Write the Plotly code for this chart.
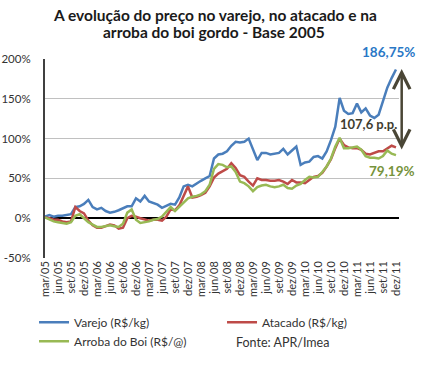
import plotly.graph_objects as go

# --- data ---
month_abbr = ["jan", "fev", "mar", "abr", "mai", "jun", "jul", "ago", "set", "out", "nov", "dez"]
months = []
for yr in range(5, 12):
    for mi, m in enumerate(month_abbr):
        if yr == 5 and mi < 2:
            continue
        months.append(f"{m}/{yr:02d}")

tick_labels = [m for m in months if m.split("/")[0] in ("mar", "jun", "set", "dez")]

varejo = [2, 4, 2, 3, 3, 4, 5, 14, 15, 18,
          23, 14, 11, 13, 9, 7, 8, 10, 12, 15,
          15, 25, 21, 28, 21, 19, 17, 13, 16, 18,
          17, 26, 40, 42, 40, 44, 47, 50, 53, 75,
          80, 81, 84, 91, 96, 95, 96, 100, 86, 73,
          82, 82, 80, 81, 82, 87, 80, 85, 90, 67,
          70, 71, 77, 78, 75, 84, 98, 115, 151, 135,
          131, 132, 144, 133, 138, 129, 126, 130, 148, 164,
          176, 186.75]

atacado = [1, 0, -2, -2, -4, -5, -4, 14, 9, 6,
           -3, -9, -12, -12, -10, -8, -9, -13, -12, 0,
           3, 2, 0, -2, -3, -2, -2, -3, 2, 11,
           10, 16, 28, 40, 26, 27, 29, 32, 40, 51,
           56, 59, 62, 69, 63, 54, 52, 46, 41, 50,
           48, 48, 47, 47, 48, 46, 43, 48, 45, 45,
           44, 48, 52, 53, 57, 65, 74, 88, 100, 92,
           89, 88, 88, 86, 81, 80, 82, 84, 84, 87,
           91, 89]

arroba = [1, -1, -4, -5, -6, -7, -5, 3, 5, 0,
          -5, -8, -11, -11, -10, -9, -10, -11, -7, 7,
          11, -2, -6, -5, -4, -2, -1, 2, 8, 14,
          9, 14, 19, 25, 27, 28, 30, 34, 42, 62,
          68, 67, 64, 65, 58, 46, 44, 40, 34, 39,
          41, 42, 40, 39, 40, 42, 38, 37, 41, 43,
          48, 52, 51, 52, 58, 65, 75, 90, 101, 88,
          88, 89, 90, 86, 78, 76, 76, 75, 78, 85,
          81, 79.19]

y_ticks = [-50, 0, 50, 100, 150, 200]
y_tick_labels = ["-50%", "0%", "50%", "100%", "150%", "200%"]

FONT = "Lato"

fig = go.Figure()
fig.add_trace(go.Scatter(x=months, y=varejo, mode="lines", name="Varejo (R$/kg)",
                         line=dict(color="#4a7ebb", width=2.5)))
fig.add_trace(go.Scatter(x=months, y=atacado, mode="lines", name="Atacado (R$/kg)",
                         line=dict(color="#be4b48", width=2.5)))
fig.add_trace(go.Scatter(x=months, y=arroba, mode="lines", name="Arroba do Boi (R$/@)",
                         line=dict(color="#98b954", width=2.5)))

fig.update_layout(
    template="simple_white",
    width=423, height=369,
    margin=dict(l=45, r=24, t=59, b=111, autoexpand=False),
    paper_bgcolor="white", plot_bgcolor="white",
    font=dict(family=FONT, color="#333333", size=12),
    showlegend=True,
    legend=dict(orientation="h", x=-0.031, xanchor="left", y=-0.25, yanchor="top",
                entrywidth=143, entrywidthmode="pixels", itemwidth=30,
                font=dict(family=FONT, size=12, color="#333333"),
                bgcolor="rgba(0,0,0,0)", tracegroupgap=0),
)

fig.update_xaxes(type="category", range=[0, 81.7], tickmode="array",
                 tickvals=tick_labels, ticktext=tick_labels, tickangle=-90,
                 showgrid=False, showline=False, ticks="", zeroline=False,
                 tickfont=dict(family=FONT, size=11, color="#333333"))

fig.update_yaxes(range=[-50, 200], tickmode="array", tickvals=y_ticks, ticktext=y_tick_labels,
                 showgrid=True, gridcolor="#c0c0c0", gridwidth=1,
                 zeroline=True, zerolinecolor="#000000", zerolinewidth=2,
                 showline=True, linecolor="#404040", linewidth=2, mirror=False,
                 ticks="", ticklabelstandoff=10,
                 tickfont=dict(family=FONT, size=11.5, color="#333333"))

# title (two centred lines)
fig.add_annotation(text="<b>A evolução do preço no varejo, no atacado e na</b>",
                   x=(215 - 45) / 354, xref="paper", y=(258.3 - 15.2) / 199, yref="paper",
                   xanchor="center", yanchor="middle", showarrow=False,
                   font=dict(family=FONT, size=15.5, color="#1a1a1a"))
fig.add_annotation(text="<b>arroba do boi gordo - Base 2005</b>",
                   x=(214 - 45) / 354, xref="paper", y=(258.3 - 32.8) / 199, yref="paper",
                   xanchor="center", yanchor="middle", showarrow=False,
                   font=dict(family=FONT, size=15.5, color="#1a1a1a"))

fig.add_annotation(text="<b>186,75%</b>", x=0.969, xref="paper", y=1.033, yref="paper",
                   xanchor="center", yanchor="middle", showarrow=False,
                   font=dict(family=FONT, size=13.5, color="#2a78c6"))
fig.add_annotation(text="<b>107,6 p.p.</b>", x=0.914, xref="paper", y=118.2, yref="y",
                   xanchor="center", yanchor="middle", showarrow=False,
                   font=dict(family=FONT, size=13, color="#3f3d30"))
fig.add_annotation(text="<b>79,19%</b>", x=0.979, xref="paper", y=59.5, yref="y",
                   xanchor="center", yanchor="middle", showarrow=False,
                   font=dict(family=FONT, size=13.5, color="#77933c"))
# double-headed arrow showing the spread
fig.add_annotation(text="", x=1.0076, xref="paper", y=187.4, yref="y",
                   ax=0, ay=82, axref="pixel", ayref="pixel",
                   showarrow=True, arrowside="end+start",
                   arrowhead=5, startarrowhead=5, arrowsize=1.3, startarrowsize=1.3,
                   arrowwidth=2.5, arrowcolor="#4a4636")
fig.add_annotation(text="Fonte: APR/Imea", x=0.534, xref="paper", y=-0.425, yref="paper",
                   xanchor="left", yanchor="middle", showarrow=False,
                   font=dict(family=FONT, size=12.5, color="#333333"))

# remove the default page margin so the 423x369 figure fills the window exactly
fig.write_html("out.html", config={"displayModeBar": False},
               post_script="document.body.style.margin='0px';")
